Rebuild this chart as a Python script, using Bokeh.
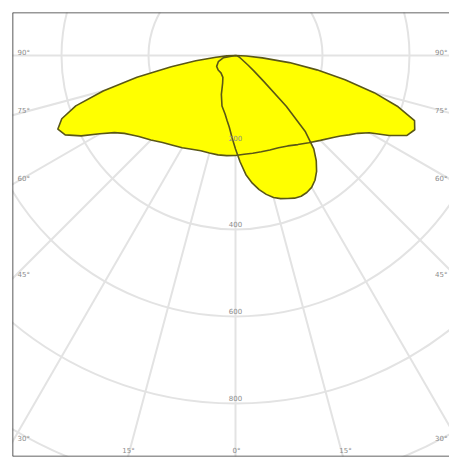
import numpy as np
from bokeh.plotting import figure
from bokeh.models import Range1d, Span
from bokeh.embed import file_html
from bokeh.resources import INLINE
from bokeh.core.properties import value

# Luminous intensity (cd/klm) vs. gamma angle (deg, 0 = nadir)
gamma_c0 = [-90, -87.5, -85, -82.5, -80, -77.5, -75, -72.5, -70, -67.5, -65, -62.5, -60,
            -57.5, -55, -52.5, -50, -45, -40, -35, -30, -25, -20, -15, -10, -5, 0,
            5, 10, 15, 20, 25, 30, 35, 40, 45, 50, 52.5, 55, 57.5, 60, 62.5, 65,
            67.5, 70, 72.5, 75, 77.5, 80, 82.5, 85, 87.5, 90]
cd_c0 = [0, 20, 45, 92, 150, 232, 315, 385, 425, 442, 432, 400, 360,
         330, 312, 300, 290, 275, 261, 252, 245, 238, 233, 232, 232, 231, 230,
         228, 228, 229, 231, 234, 240, 250, 262, 276, 293, 304, 318, 333, 355, 398, 435,
         446, 438, 392, 330, 258, 190, 125, 62, 25, 0]

gamma_c90 = [-90, -80, -70, -60, -50, -40, -30, -25, -20, -15, -10, -7.5, -5, -2.5, 0,
             2.5, 5, 7.5, 10, 12.5, 15, 17.5, 20, 22.5, 25, 27.5, 30, 32.5, 35, 37.5,
             40, 42.5, 45, 47.5, 50, 52.5, 55, 60, 70, 80, 90]
cd_c90 = [0, 28, 42, 50, 52, 52, 58, 70, 95, 120, 137, 150, 165, 188, 215,
          245, 275, 296, 313, 327, 338, 345, 350, 355, 357, 355, 350, 340, 325, 305,
          280, 238, 165, 88, 55, 36, 25, 15, 8, 4, 0]

ring_values = [200, 400, 600, 800, 1000]
ring_labels = ["200", "400", "600", "800"]
spoke_angles = [-90, -75, -60, -45, -30, -15, 0, 15, 30, 45, 60, 75, 90]
left_angle_labels = ["90°", "75°", "60°", "45°", "30°"]
right_angle_labels = ["90°", "75°", "60°", "45°", "30°"]
bottom_angle_labels = ["15°", "0°", "15°"]

# pixel helpers (origin of the diagram at pixel 235,55 of the page; 0.435 px per cd/klm)
S = 1 / 0.435
def px_x(px):
    return (px - 235) * S
def px_y(py):
    return (55 - py) * S

p = figure(width=449, height=458, output_backend="svg", toolbar_location=None,
           x_range=Range1d(px_x(12), px_x(449)), y_range=Range1d(px_y(456), px_y(12)),
           x_axis_location=None, y_axis_location=None,
           min_border_left=12, min_border_right=0, min_border_top=12, min_border_bottom=2)
p.grid.visible = False
p.outline_line_color = None
p.background_fill_color = "white"
p.border_fill_color = "white"

grid_col = "#e3e3e3"
# rings
p.circle(x=[0] * len(ring_values), y=[0] * len(ring_values), radius=ring_values,
         fill_color=None, line_color=grid_col, line_width=2)
# spokes
R = 1500
sa = np.radians(spoke_angles)
p.segment(x0=[0] * len(sa), y0=[0] * len(sa), x1=list(R * np.sin(sa)), y1=list(-R * np.cos(sa)),
          line_color=grid_col, line_width=2)

def xy(g, v):
    g = np.radians(np.array(g, dtype=float))
    v = np.array(v, dtype=float)
    return list(v * np.sin(g)), list(-v * np.cos(g))

x0, y0 = xy(gamma_c0, cd_c0)
x9, y9 = xy(gamma_c90, cd_c90)
fill = "#ffff00"
edge = "#5a5716"
p.patch(x0, y0, fill_color=fill, line_color=None)
p.patch(x9, y9, fill_color=fill, line_color=None)
p.line(x0 + [x0[0]], y0 + [y0[0]], line_color=edge, line_width=1.6, line_join="round")
p.line(x9 + [x9[0]], y9 + [y9[0]], line_color=edge, line_width=1.6, line_join="round")

lab_col = "#8c8c8c"
fs = "7px"
font = value("DejaVu Sans")
# intensity labels
p.text(x=[0] * 4, y=[px_y(137), px_y(223), px_y(310), px_y(397)], text=ring_labels,
       text_align="center", text_baseline="middle", text_font_size=fs,
       text_color=lab_col, text_font=font)
# left angle labels
ly = [52, 110, 178, 274, 438]
p.text(x=[px_x(17)] * 5, y=[px_y(v) for v in ly], text=left_angle_labels,
       text_align="left", text_baseline="middle", text_font_size=fs,
       text_color=lab_col, text_font=font)
# right angle labels
p.text(x=[px_x(447)] * 5, y=[px_y(v) for v in ly], text=right_angle_labels,
       text_align="right", text_baseline="middle", text_font_size=fs,
       text_color=lab_col, text_font=font)
# bottom labels
p.text(x=[px_x(128), px_x(236), px_x(345)], y=[px_y(450)] * 3, text=bottom_angle_labels,
       text_align="center", text_baseline="middle", text_font_size=fs,
       text_color=lab_col, text_font=font)

# frame border on left, top, bottom
p.add_layout(Span(location=px_x(12), dimension="height", line_color="#222222", line_width=1.5))
p.add_layout(Span(location=px_y(12), dimension="width", line_color="#333333", line_width=1.5))
p.add_layout(Span(location=px_y(456), dimension="width", line_color="#333333", line_width=1.5))

open("out.html", "w").write(file_html(p, INLINE))
